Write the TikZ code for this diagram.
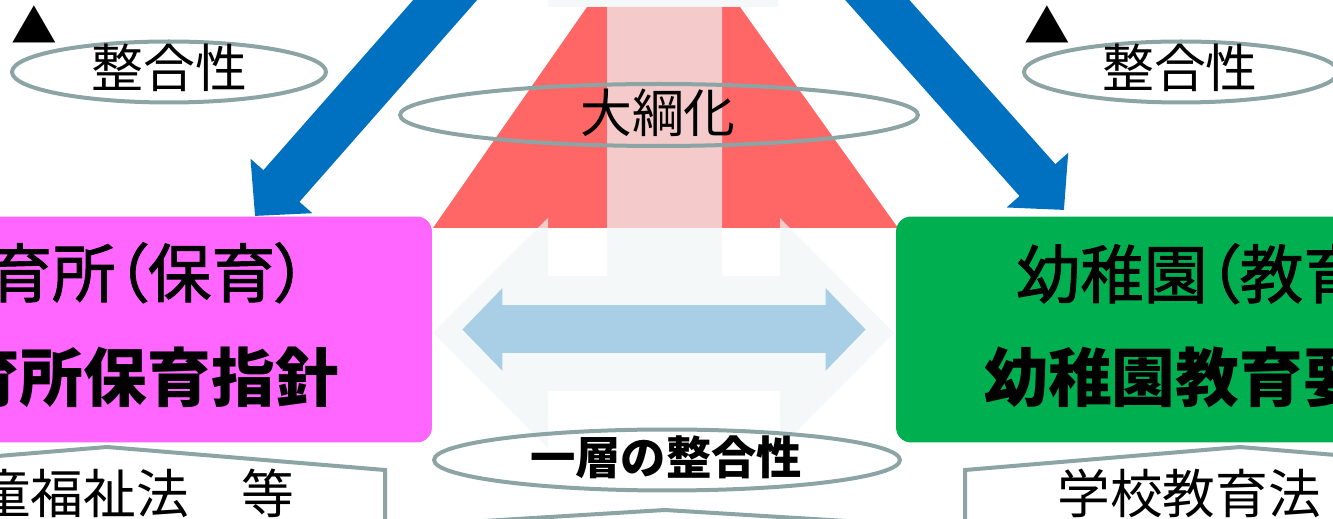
\documentclass[tikz,border=0pt]{standalone}
\usepackage{fontspec}
\usepackage{tikz}
\usetikzlibrary{calc}
\usetikzlibrary{arrows.meta}
\usetikzlibrary{shapes.geometric, positioning}

\newfontfamily\jpfont{Noto Sans CJK JP}
\newfontfamily\jpboxfont[CharacterWidth=AlternateProportional,FakeBold=1.5]{Noto Sans CJK JP}

\definecolor{arrowblue}{HTML}{0070C0}
\definecolor{taikored}{HTML}{FF6666}
\definecolor{palegray}{RGB}{240,245,245}
\definecolor{linkblue}{RGB}{169,207,231}
\definecolor{ringgray}{RGB}{140,164,164}
\definecolor{hoikupink}{HTML}{FF66FF}
\definecolor{yochigreen}{HTML}{00B050}

\begin{document}
\begin{tikzpicture}[x=0.02cm,y=-0.02cm,
    block arrow/.style={line width=0.96cm,-{Triangle[length=0.8cm,width=1.6cm]}},
    box node/.style={rectangle,rounded corners=0.3cm,minimum height=4.52cm},
    oval node/.style={ellipse,draw=ringgray,line width=0.08cm,minimum height=1.22cm},
    ring line/.style={draw=ringgray,line width=0.08cm},
    thin text/.style={inner sep=0pt,anchor=base,font=\jpfont\fontsize{29.5}{32}\selectfont},
    kind text/.style={inner sep=0pt,anchor=base west,font=\jpboxfont\fontsize{36.3}{40}\selectfont},
    name text/.style={inner sep=0pt,anchor=base west,font=\jpfont\bfseries\fontsize{36.3}{40}\selectfont},
    law text/.style={inner sep=0pt,anchor=base west,font=\jpfont\fontsize{30}{32}\selectfont}]
    \useasboundingbox (0,0) rectangle (1333,519);
    \clip (0,0) rectangle (1333,519);

    \fill[taikored] (433,228) -- (587,7) -- (740,7) -- (898,228) -- cycle;
    \fill[palegray,opacity=0.7] (548,-20) -- (778,-20) -- (778,7) -- (722,7) -- (722,276)
        -- (780,276) -- (780,218) -- (894,333) -- (780,448) -- (780,391) -- (548,391)
        -- (548,448) -- (433,333) -- (548,218) -- (548,276) -- (607,276) -- (607,7)
        -- (548,7) -- cycle;

    \node[box node,fill=hoikupink,minimum width=12.64cm] (hoiku) at (116,329.5) {};
    \node[box node,fill=yochigreen,minimum width=12.48cm] (yochi) at (1208,329.5) {};
    \draw[linkblue,line width=0.96cm,{Triangle[length=0.8cm,width=1.6cm]}-{Triangle[length=0.8cm,width=1.6cm]},
        shorten <=0.6cm,shorten >=0.6cm] (hoiku) -- (yochi);

    \node[kind text] (hoikuk) at (-76,297) {保育所（保育）};
    \node[name text] (hoikun) at (-108,402) {保育所保育指針};
    \node[kind text] (yochik) at (1016,298) {幼稚園（教育）};
    \node[name text] (yochin) at (984,402) {幼稚園教育要領};

    \coordinate (srcL) at (498,-60);
    \coordinate (tipL) at (255,216);
    \coordinate (srcR) at (824,-60);
    \coordinate (tipR) at (1064,210);
    \draw[block arrow,arrowblue] (srcL) -- (tipL);
    \draw[block arrow,arrowblue] (srcR) -- (tipR);

    \node[inner sep=0pt,font=\jpfont\fontsize{26}{28}\selectfont] (markL) at (34,25) {▲};
    \node[inner sep=0pt,font=\jpfont\fontsize{26}{28}\selectfont] (markR) at (1047,25) {▲};
    \node[oval node,minimum width=6.28cm] (fitL) at (169,72) {};
    \node[thin text] (fitLt) at (169.5,88) {整合性};
    \node[oval node,minimum width=6.28cm] (fitR) at (1181,72) {};
    \node[thin text] (fitRt) at (1180,88) {整合性};
    \node[oval node,minimum width=10.36cm,minimum height=1.24cm] (taiko) at (659,115) {};
    \node[thin text] (taikot) at (658,133) {大綱化};
    \node[oval node,minimum width=9.32cm] (ichiso) at (667,460) {};
    \node[inner sep=0pt,anchor=base,font=\jpfont\bfseries\fontsize{25.8}{28}\selectfont] (ichisot) at (666,475) {一層の整合性};

    \draw[ring line] (-171,470) -- (107,447) -- (385,470) -- (385,580) -- (-171,580) -- cycle;
    \node[law text] (lawL) at (-75,513.5) {児童福祉法　等};
    \draw[ring line] (965,470) -- (1240,447) -- (1515,470) -- (1515,580) -- (965,580) -- cycle;
    \node[law text] (lawR) at (1057,513.5) {学校教育法};
    \draw[ring line] (385,527) -- (665,510) -- (945,527) -- (945,600) -- (385,600) -- cycle;
\end{tikzpicture}
\end{document}
